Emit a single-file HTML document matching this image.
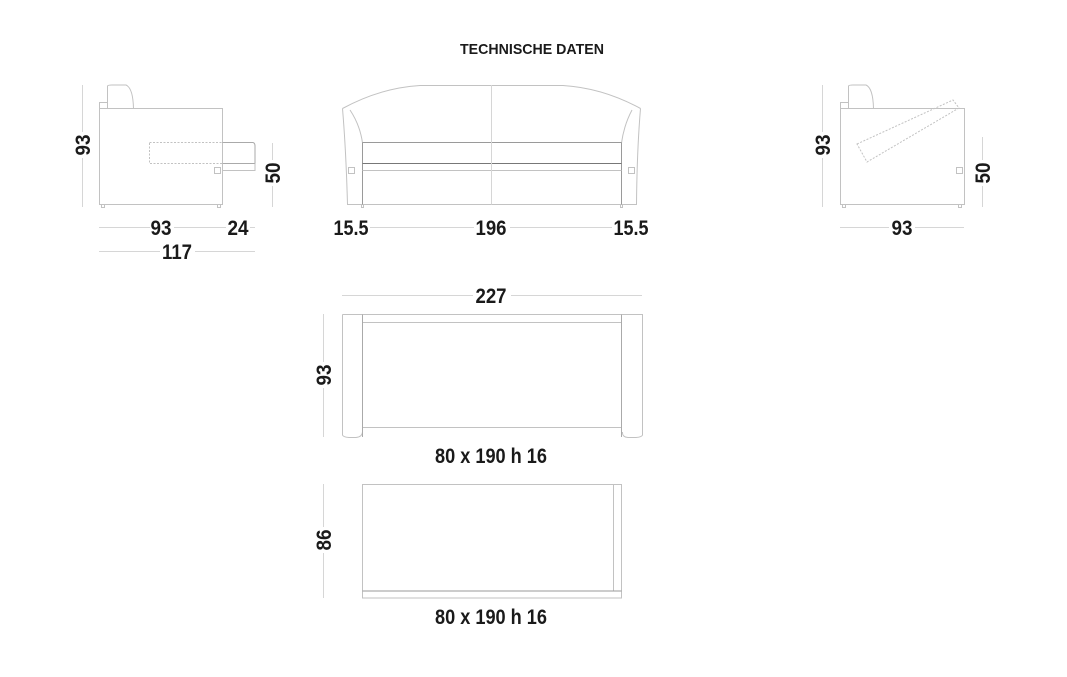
<!DOCTYPE html>
<html><head><meta charset="utf-8"><style>
html,body{margin:0;padding:0;background:#fff;}
svg{display:block}
text{font-family:"Liberation Sans",sans-serif;font-weight:bold;fill:#1a1a1a;}
</style></head><body>
<svg width="1067" height="677" viewBox="0 0 1067 677" xmlns="http://www.w3.org/2000/svg">
<rect width="1067" height="677" fill="#fff"/>
<text x="532" y="54" font-size="15" text-anchor="middle" textLength="144" lengthAdjust="spacingAndGlyphs" fill="#222">TECHNISCHE DATEN</text>

<g fill="none" stroke="#c2c2c2" stroke-width="1">
<!-- left side view -->
<rect x="99.5" y="108.5" width="123" height="96"/>
<path d="M107.5 108.5 V86 Q108 85 112 85 H126 Q133 88 133.5 108.5"/>
<path d="M99.5 108.5 V102.5 H107.5"/>
<rect x="149.5" y="142.5" width="73" height="21" stroke-dasharray="2 1.5"/>
<path d="M222.5 142.5 H253 Q255 143 255 146 V163.5 H222.5" stroke="#aaa"/>
<path d="M222.5 163.5 V170.5 H255 V163.5"/>
<rect x="214.5" y="167.5" width="6" height="6"/>
<path d="M101.5 204.5 v3 h3 v-3 M217.5 204.5 v3 h3 v-3"/>
<!-- front view -->
<path d="M342.5 108.5 Q380 88 420 85.5 H563 Q603 88 640.5 108.5"/>
<path d="M342.5 108.5 Q346 150 347.5 204.5 H636.5 Q637 150 640.5 108.5"/>
<path d="M350 110 Q360 125 362.5 143 M632 110 Q624 125 621.5 143"/>
<path d="M362.5 142.5 H621.5 M362.5 142.5 V204.5 M621.5 142.5 V204.5" stroke="#9a9a9a"/>
<line x1="362.5" y1="163.5" x2="621.5" y2="163.5" stroke="#777"/>
<line x1="362.5" y1="170.5" x2="621.5" y2="170.5"/>
<line x1="491.5" y1="85" x2="491.5" y2="204.5" stroke="#d6d6d6"/>
<rect x="348.5" y="167.5" width="6" height="6"/>
<rect x="628.5" y="167.5" width="6" height="6"/>
<path d="M361.5 204.5 v3 h2 v-3 M620.5 204.5 v3 h2 v-3"/>
<!-- right side view -->
<rect x="840.5" y="108.5" width="124" height="96"/>
<path d="M848.5 108.5 V86 Q849 85 853 85 H866 Q873 88 873.5 108.5"/>
<path d="M840.5 108.5 V102.5 H848.5"/>
<path d="M857 144 L953 100 L959 108 L867 162 Z" stroke-dasharray="2 1.5"/>
<rect x="956.5" y="167.5" width="6" height="6"/>
<path d="M842.5 204.5 v3 h3 v-3 M958.5 204.5 v3 h3 v-3"/>
<!-- plan view -->
<path d="M342.5 314.5 H642.5 V435 Q642 437 636 437.5 H628 Q622 437 622.5 432 M342.5 314.5 V435 Q343 437 349 437.5 H356 Q362 437 362.5 432"/>
<rect x="362.5" y="322.5" width="259" height="105"/>
<line x1="362.5" y1="314.5" x2="362.5" y2="437" stroke="#aaa"/>
<line x1="621.5" y1="314.5" x2="621.5" y2="437" stroke="#aaa"/>
<!-- bed -->
<rect x="362.5" y="484.5" width="259" height="106.5"/>
<line x1="613.5" y1="484.5" x2="613.5" y2="591"/>
<rect x="362.5" y="591" width="259" height="7" />
<line x1="362.5" y1="591" x2="621.5" y2="591" stroke="#9a9a9a"/>
</g>

<!-- dimension lines -->
<g stroke="#d6d6d6" stroke-width="1" fill="none">
<line x1="82.5" y1="85" x2="82.5" y2="207"/>
<line x1="272.5" y1="143" x2="272.5" y2="207"/>
<line x1="99" y1="227.5" x2="255" y2="227.5"/>
<line x1="99" y1="251.5" x2="255" y2="251.5"/>
<line x1="347" y1="227.5" x2="636" y2="227.5"/>
<line x1="822.5" y1="85" x2="822.5" y2="207"/>
<line x1="982.5" y1="137" x2="982.5" y2="207"/>
<line x1="840" y1="227.5" x2="964" y2="227.5"/>
<line x1="342" y1="295.5" x2="642" y2="295.5"/>
<line x1="323.5" y1="314" x2="323.5" y2="437"/>
<line x1="323.5" y1="484" x2="323.5" y2="598"/>
</g>

<!-- labels -->
<g font-size="21" text-anchor="middle">
<g fill="#fff" stroke="none">
<rect x="150" y="218" width="24" height="20"/>
<rect x="226" y="218" width="24" height="20"/>
<rect x="160" y="242" width="35" height="20"/>
<rect x="334" y="218" width="36" height="20"/>
<rect x="474" y="218" width="36" height="20"/>
<rect x="612" y="218" width="38" height="20"/>
<rect x="889" y="218" width="26" height="20"/>
<rect x="473" y="286" width="38" height="20"/>
<rect x="72" y="132" width="20" height="26"/>
<rect x="262" y="160" width="20" height="26"/>
<rect x="812" y="132" width="20" height="26"/>
<rect x="972" y="160" width="20" height="26"/>
<rect x="313" y="362" width="20" height="26"/>
<rect x="313" y="527" width="20" height="26"/>
</g>
<text x="161" y="235" textLength="21" lengthAdjust="spacingAndGlyphs">93</text>
<text x="238" y="235" textLength="21" lengthAdjust="spacingAndGlyphs">24</text>
<text x="177" y="259" textLength="30" lengthAdjust="spacingAndGlyphs">117</text>
<text x="351" y="235" textLength="35" lengthAdjust="spacingAndGlyphs">15.5</text>
<text x="491" y="235" textLength="31" lengthAdjust="spacingAndGlyphs">196</text>
<text x="631" y="235" textLength="35" lengthAdjust="spacingAndGlyphs">15.5</text>
<text x="902" y="235" textLength="21" lengthAdjust="spacingAndGlyphs">93</text>
<text x="491" y="303" textLength="31" lengthAdjust="spacingAndGlyphs">227</text>
<text x="491" y="463" textLength="112" lengthAdjust="spacingAndGlyphs">80 x 190 h 16</text>
<text x="491" y="624" textLength="112" lengthAdjust="spacingAndGlyphs">80 x 190 h 16</text>
<text transform="translate(90,145) rotate(-90)" textLength="21" lengthAdjust="spacingAndGlyphs">93</text>
<text transform="translate(280,173) rotate(-90)" textLength="21" lengthAdjust="spacingAndGlyphs">50</text>
<text transform="translate(830,145) rotate(-90)" textLength="21" lengthAdjust="spacingAndGlyphs">93</text>
<text transform="translate(990,173) rotate(-90)" textLength="21" lengthAdjust="spacingAndGlyphs">50</text>
<text transform="translate(331,375) rotate(-90)" textLength="21" lengthAdjust="spacingAndGlyphs">93</text>
<text transform="translate(331,540) rotate(-90)" textLength="21" lengthAdjust="spacingAndGlyphs">86</text>
</g>
</svg>
</body></html>
